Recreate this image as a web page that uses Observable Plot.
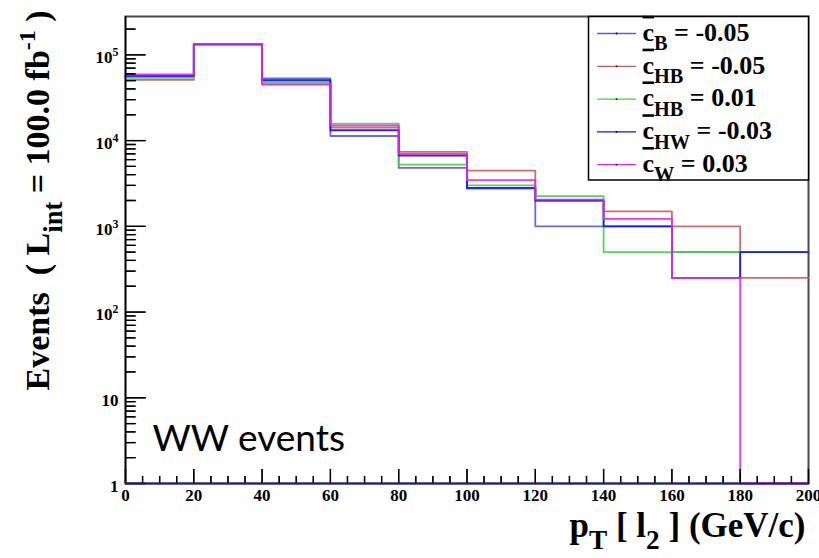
<!DOCTYPE html>
<html>
<head>
<meta charset="utf-8">
<script src="https://cdn.jsdelivr.net/npm/d3@7"></script>
<script src="https://cdn.jsdelivr.net/npm/@observablehq/plot@0.6"></script>
<style>
  body { margin: 0; background: #fff; }
  #chart svg { display: block; background: #fff; font-family: "Liberation Serif", "Times New Roman", serif; }
</style>
</head>
<body>
<div id="chart"></div>
<script>
// pT of the sub-leading lepton, 20 GeV bins from 0 to 200
const binEdges = [0, 20, 40, 60, 80, 100, 120, 140, 160, 180, 200];

// event counts per bin for each operator setting
const cB_m005  = [56000, 132000, 53000, 11300, 4800, 2750, 1000, 1000, 500, 500];
const cHB_m005 = [51000, 132000, 45000, 14200, 7400, 4470, 2000, 1490, 1000, 250];
const cHB_p001 = [54000, 132000, 48000, 15800, 5250, 3000, 2250, 500, 500, 500];
const cHW_m003 = [57000, 133000, 50500, 13200, 6700, 2800, 2000, 1000, 250, 500];
const cW_p003  = [59000, 134000, 45500, 15000, 7000, 3450, 2050, 1220, 250, 0];

const seriesNames  = ["cB", "cHB-", "cHB+", "cHW", "cW"];
const seriesValues = [cB_m005, cHB_m005, cHB_p001, cHW_m003, cW_p003];
const seriesLabels = [
  "#bar{c}_{B} = -0.05",
  "#bar{c}_{HB} = -0.05",
  "#bar{c}_{HB} = 0.01",
  "#bar{c}_{HW} = -0.03",
  "#bar{c}_{W} = 0.03"
];
const seriesColors = ["#5a5ae0", "#cc5a5a", "#46d046", "#1010f0", "#f020f0"];

// axis ticks and labels
const yMajor = [1, 10, 100, 1000, 10000, 100000];
const yTickLabels = ["1", "10", "10^{2}", "10^{3}", "10^{4}", "10^{5}"];
const xMajor = [0, 20, 40, 60, 80, 100, 120, 140, 160, 180, 200];
const xTickLabels = ["0", "20", "40", "60", "80", "100", "120", "140", "160", "180", "200"];

const xLo = 0, xHi = 200;
const yFloor = 1, yCeil = 2.8e5;
const yMinor = yMajor.flatMap(d => d3.range(2, 10).map(k => k * d)).filter(v => v <= yCeil);
const xMinor = d3.range(0, 201, 5).filter(v => v % 20 !== 0);

// step outline rows: one point per left bin edge plus the closing right edge;
// empty bins drop to the axis floor on the log scale
const rows = seriesNames.flatMap((name, s) => {
  const v = seriesValues[s];
  const pts = v.map((y, i) => ({series: name, x: binEdges[i], y: Math.max(y, yFloor)}));
  pts.push({series: name, x: binEdges[binEdges.length - 1], y: Math.max(v[v.length - 1], yFloor)});
  return pts;
});

const W = 819, H = 558;
const mL = 125, mR = 11, mT = 16, mB = 75;
const frameW = W - mL - mR, frameH = H - mT - mB;

// tick lengths in pixels, converted to data units along each axis
const xSpan = px => xLo + px * (xHi - xLo) / frameW;
const ySpan = px => yFloor * Math.pow(yCeil / yFloor, px / frameH);

// a plain stroke from the anchor, used for axis ticks and legend samples
const stroke = {draw(ctx, l) { ctx.moveTo(0, 0); ctx.lineTo(0, -l); }};
const yTick = (data, len) => [
  Plot.ruleY(data, {y: d => d, x1: xLo, x2: xSpan(len), stroke: "black", strokeWidth: 1.3}),
  Plot.vector(data, {y: d => d, frameAnchor: "left", length: len, rotate: 90, anchor: "start",
    shape: stroke, stroke: "black", strokeWidth: 1.3})
];
const xTick = (data, len) => [
  Plot.ruleX(data, {x: d => d, y1: yFloor, y2: ySpan(len), stroke: "black", strokeWidth: 1.3}),
  Plot.vector(data, {x: d => d, frameAnchor: "bottom", length: len, rotate: 0, anchor: "start",
    shape: stroke, stroke: "black", strokeWidth: 1.3})
];

// legend layout (pixels from the frame's top-left corner)
const legX = 472, legTextX = 517, legY0 = 17, legStep = 32.8, legLen = 38;

const legendMarks = seriesNames.flatMap((name, i) => [
  Plot.vector([name], {
    frameAnchor: "top-left", dx: legX, dy: legY0 + i * legStep,
    length: legLen, rotate: 90, anchor: "start", shape: stroke,
    stroke: d => d, strokeWidth: 1.3
  }),
  Plot.dot([name], {
    frameAnchor: "top-left", dx: legX + legLen / 2, dy: legY0 + i * legStep,
    r: 0.9, fill: "black", stroke: null
  }),
  Plot.text([seriesLabels[i]], {
    frameAnchor: "top-left", text: d => d,
    textAnchor: "start", lineAnchor: "middle",
    dx: legTextX, dy: legY0 + i * legStep - 1,
    fontSize: 26, fontWeight: "bold"
  })
]);

const plot = Plot.plot({
  width: W,
  height: H,
  marginLeft: mL,
  marginRight: mR,
  marginTop: mT,
  marginBottom: mB,
  style: {fontFamily: "'Liberation Serif', 'Times New Roman', serif", background: "#fff"},
  x: {type: "linear", domain: [xLo, xHi], axis: null},
  y: {type: "log", domain: [yFloor, yCeil], axis: null},
  color: {domain: seriesNames, range: seriesColors},
  marks: [
    // outer frame
    Plot.frame({stroke: "#4a4a4a", strokeWidth: 2}),
    // histogram outlines
    Plot.line(rows, {x: "x", y: "y", z: "series", stroke: "series", curve: "step-after", strokeWidth: 1.8, strokeOpacity: 0.9}),
    // y axis: line, ticks pointing into the frame, labels
    Plot.ruleX([xLo], {stroke: "black", strokeWidth: 1.5}),
    ...yTick(yMajor, 20),
    ...yTick(yMinor, 10),
    Plot.text(yMajor, {
      y: d => d, frameAnchor: "left", text: (d, i) => yTickLabels[i],
      textAnchor: "end", lineAnchor: "middle", dx: -7, dy: 3,
      fontSize: 17, fontWeight: "bold"
    }),
    // x axis: ticks pointing up, baseline, labels
    ...xTick(xMajor, 14),
    ...xTick(xMinor, 7),
    Plot.ruleY([yFloor], {stroke: "#22227a", strokeWidth: 2.2}),
    Plot.text(xMajor, {
      x: d => d, frameAnchor: "bottom", text: (d, i) => xTickLabels[i],
      lineAnchor: "top", dy: 5, fontSize: 17, fontWeight: "bold"
    }),
    // axis titles
    Plot.text(["Events  ( L_{int} = 100.0 fb^{-1} )"], {
      frameAnchor: "top-left", text: d => d, rotate: -90,
      textAnchor: "end", lineAnchor: "middle", dx: -87, dy: -6,
      fontSize: 34, fontWeight: "bold"
    }),
    Plot.text(["p_{T} [ l_{2} ] (GeV/c)"], {
      frameAnchor: "bottom-right", text: d => d,
      textAnchor: "end", lineAnchor: "middle", dx: -3, dy: 42,
      fontSize: 35, fontWeight: "bold"
    }),
    // process label
    Plot.text(["WW events"], {
      frameAnchor: "bottom-left", text: d => d,
      textAnchor: "start", lineAnchor: "middle", dx: 27, dy: -44,
      fontSize: 37, fontFamily: "Lato", fontWeight: 400
    }),
    // legend box and entries
    Plot.frame({insetLeft: 463, insetBottom: 303.5, fill: "white", stroke: "black", strokeWidth: 1.5}),
    ...legendMarks
  ]
});

document.getElementById("chart").appendChild(plot);

// typeset ROOT-style markup: #bar{..}, _{..} subscripts, ^{..} superscripts
function typeset(textEl) {
  const src = textEl.textContent;
  if (!/(#bar|[_^])\{/.test(src)) return;
  const fs = parseFloat(getComputedStyle(textEl).fontSize);
  const t = d3.select(textEl);
  t.text(null);
  let offset = 0;
  for (const part of src.split(/(#bar\{[^}]*\}|[_^]\{[^}]*\})/)) {
    if (!part) continue;
    let m, s = part, dy = 0, size = null, deco = null;
    if ((m = /^_\{(.*)\}$/.exec(part))) { s = m[1]; dy = 0.36 * fs; size = 0.78 * fs; }
    else if ((m = /^\^\{(.*)\}$/.exec(part))) { s = m[1]; dy = -0.42 * fs; size = 0.7 * fs; }
    else if ((m = /^#bar\{(.*)\}$/.exec(part))) { s = m[1]; deco = "overline"; }
    const ts = t.append("tspan").text(s).attr("dy", dy - offset);
    offset = dy;
    if (size) ts.attr("font-size", size);
    if (deco) ts.attr("text-decoration", deco);
  }
}
plot.querySelectorAll("text").forEach(typeset);
</script>
</body>
</html>
